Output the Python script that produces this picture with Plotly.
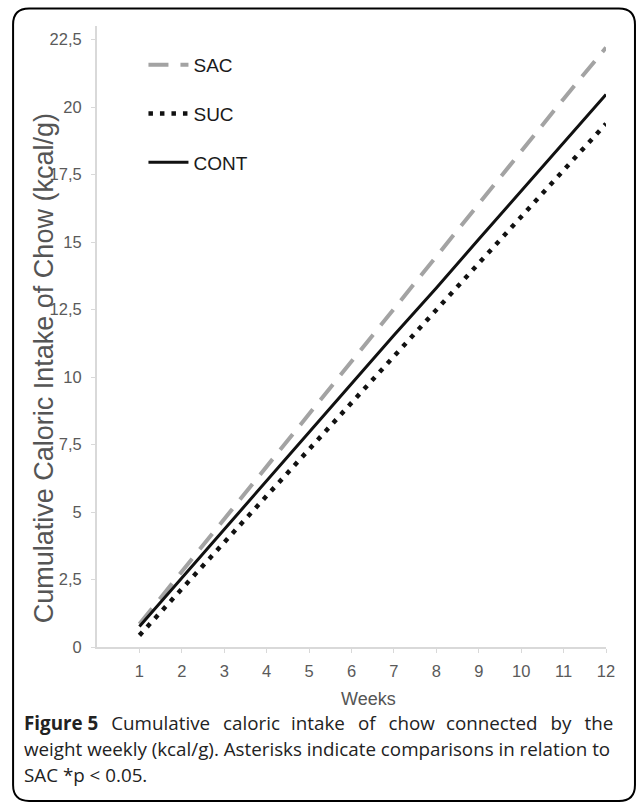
import plotly.graph_objects as go

weeks = [1, 2, 3, 4, 5, 6, 7, 8, 9, 10, 11, 12]
sac = [0.85, 2.80, 4.75, 6.70, 8.65, 10.60, 12.50, 14.45, 16.40, 18.35, 20.30, 22.20]
suc = [0.43, 2.15, 3.88, 5.60, 7.32, 9.05, 10.78, 12.50, 14.20, 15.95, 17.67, 19.38]
cont = [0.76, 2.55, 4.35, 6.15, 7.95, 9.75, 11.55, 13.30, 15.10, 16.90, 18.70, 20.46]

y_tickvals = [0, 2.5, 5, 7.5, 10, 12.5, 15, 17.5, 20, 22.5]
y_ticktext = ["0", "2,5", "5", "7,5", "10", "12,5", "15", "17,5", "20", "22,5"]
x_tickvals = weeks
x_ticktext = [str(w) for w in weeks]

W, H = 637, 808
PL, PR, PT, PB = 96.5, 606.0, 26.0, 647.5  # plot area in window pixels
L, T = PL, PT
R, B = W - PR, H - PB
PW, PH = PR - PL, PB - PT


def px(xp):
    return (xp - PL) / PW


def py(yp):
    return (PB - yp) / PH


fig = go.Figure()
fig.add_trace(go.Scatter(x=weeks, y=sac, mode="lines", name="SAC", legendgroup="a",
                         line=dict(color="#a3a3a3", width=4, dash="20px,12px")))
fig.add_trace(go.Scatter(x=weeks, y=suc, mode="lines", name="SUC", legendgroup="b",
                         line=dict(color="#111111", width=4.5, dash="4.5px,7px")))
fig.add_trace(go.Scatter(x=weeks, y=cont, mode="lines", name="CONT", legendgroup="c",
                         line=dict(color="#111111", width=3)))

axis_col = "#d9d9d9"
tick_font = dict(family="Liberation Sans, Arial", size=16.5, color="#5a5a5a")

fig.update_xaxes(range=[0, 12], tickvals=x_tickvals, ticktext=x_ticktext,
                 showgrid=False, zeroline=False, showline=True, linecolor=axis_col,
                 linewidth=2, ticks="outside", ticklen=4, tickcolor=axis_col,
                 tickwidth=1, tickfont=tick_font, ticklabelstandoff=4)
fig.update_yaxes(range=[0, 23], tickvals=y_tickvals, ticktext=y_ticktext,
                 showgrid=False, zeroline=False, showline=True, linecolor=axis_col,
                 linewidth=2, ticks="outside", ticklen=4, tickcolor=axis_col,
                 tickwidth=1, tickfont=tick_font, ticklabelstandoff=6)

# rounded border (window pixels)
x0, x1, y0, y1, r = 12.5, 635.0, 8.5, 801.5, 16


def pt(a, b):
    return f"{px(a):.5f},{py(b):.5f}"


path = (f"M{pt(x0 + r, y0)} L{pt(x1 - r, y0)} Q{pt(x1, y0)} {pt(x1, y0 + r)} "
        f"L{pt(x1, y1 - r)} Q{pt(x1, y1)} {pt(x1 - r, y1)} "
        f"L{pt(x0 + r, y1)} Q{pt(x0, y1)} {pt(x0, y1 - r)} "
        f"L{pt(x0, y0 + r)} Q{pt(x0, y0)} {pt(x0 + r, y0)} Z")
fig.add_shape(type="path", path=path, xref="paper", yref="paper",
              line=dict(color="#000000", width=2))

annotations = [
    dict(text="Cumulative Caloric Intake of Chow (kcal/g)", x=px(43), y=py(369),
         textangle=-90, font=dict(family="Liberation Sans, Arial", size=27, color="#555555")),
    dict(text="Weeks", x=px(368), y=py(700),
         font=dict(family="Liberation Sans, Arial", size=18, color="#555555")),
]
cap_font = dict(family="Open Sans", size=18.8, color="#222222")
JA = " \u2004\u200a"
JB = " \u2009\u2009"
words1 = ["<b>Figure 5</b>", "Cumulative", "caloric", "intake", "of", "chow",
          "connected", "by", "the"]
line1 = words1[0]
for i, w in enumerate(words1[1:]):
    line1 += (JA if i % 3 != 2 else JB) + w
cap_lines = [
    line1,
    "weight weekly (kcal/g). Asterisks indicate comparisons in relation to",
    "SAC *p &lt; 0.05.",
]
cap_y = [724, 750, 776]
for txt, yy in zip(cap_lines, cap_y):
    annotations.append(dict(text=txt, x=px(21), y=py(yy), xanchor="left", font=cap_font))
for a in annotations:
    a.update(xref="paper", yref="paper", showarrow=False)
    a.setdefault("xanchor", "center")
    a.setdefault("yanchor", "middle")
fig.update_layout(annotations=annotations)

fig.update_layout(
    width=W, height=H,
    margin=dict(l=L, r=R, t=T, b=B, pad=0),
    paper_bgcolor="white", plot_bgcolor="white",
    showlegend=True,
    legend=dict(x=px(143), y=py(46), xanchor="left", yanchor="top",
                font=dict(family="Liberation Sans, Arial", size=19, color="#1a1a1a"),
                tracegroupgap=21, bgcolor="rgba(0,0,0,0)", itemwidth=40),
)

fig.write_html("out.html", config={"displayModeBar": False},
               post_script="document.body.style.margin='0';document.body.style.overflow='hidden';")
